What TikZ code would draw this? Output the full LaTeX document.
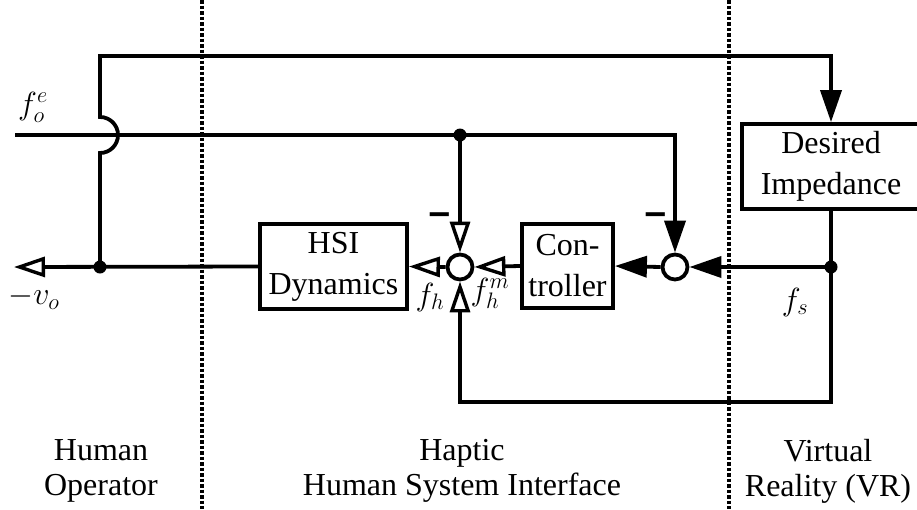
\RequirePackage{fix-cm}
\documentclass[tikz,border=0pt]{standalone}
\usepackage{graphicx}
\usepackage{fontspec}
\setmainfont{Liberation Serif}
\usetikzlibrary{arrows.meta}

\tikzset{
  wire/.style={line width=3.8pt},
  openarr/.style={wire,-{Triangle[open,length=31pt,width=20pt,fill=white,line width=3.4pt]}},
  fillarr/.style={wire,-{Triangle[length=32pt,width=21pt]}},
  blockbox/.style={draw,line width=3.8pt,align=center,inner sep=0pt,
    font=\fontsize{32}{41}\selectfont},
  sumjunction/.style={draw,circle,line width=3.8pt,minimum size=25pt,inner sep=0pt},
  junctiondot/.style={circle,fill,minimum size=13pt,inner sep=0pt},
  signal/.style={font=\fontsize{32}{35}\selectfont,inner sep=0pt},
  minussign/.style={font=\bfseries\fontsize{46}{46}\selectfont,inner sep=0pt},
  zonelabel/.style={align=center,font=\fontsize{32}{35}\selectfont,inner sep=0pt},
  divider/.style={line width=3.5pt,dash pattern=on 3.5pt off 2pt}
}

\begin{document}
\begin{tikzpicture}[x=1pt,y=-1pt]
  \useasboundingbox (0,0) rectangle (917,509);

  % zone dividers
  \coordinate (divAtop) at (202,0);
  \coordinate (divAbot) at (202,509);
  \coordinate (divBtop) at (729,0);
  \coordinate (divBbot) at (729,509);
  \draw[divider] (divAtop) -- (divAbot);
  \draw[divider] (divBtop) -- (divBbot);

  % blocks
  \node[blockbox,minimum width=147pt,minimum height=85pt] (hsi) at (333.5,266.5) {HSI\\Dynamics};
  \node[blockbox,minimum width=91pt,minimum height=84pt] (ctrl) at (567.5,266) {Con-\\troller};
  \node[blockbox,minimum width=178pt,minimum height=85pt] (desired) at (831,166.5) {Desired\\Impedance};

  % summing junctions
  \node[sumjunction] (s1) at (460,267) {};
  \node[sumjunction] (s2) at (675,267) {};

  % branch points
  \node[junctiondot] (dvo) at (100,267) {};
  \node[junctiondot] (dfo) at (460,135) {};
  \node[junctiondot] (dfs) at (831,267) {};

  % free ends and corners
  \coordinate (vo) at (14,267);
  \coordinate (foe) at (15,135);
  \coordinate (jumplow) at (100,153);
  \coordinate (topleft) at (100,56);
  \coordinate (loopcorner) at (831,402);

  % human side: velocity output and feedback to VR (hops over the force line)
  \draw[openarr] (hsi.west) -- (vo);
  \draw[fillarr] (dvo.center) -- (jumplow) arc[start angle=90,end angle=-90,radius=18]
        -- (topleft) -| (desired.north);

  % operator force
  \draw[wire] (foe) -- (dfo.center);
  \draw[fillarr] (dfo.center) -| (s2.north);
  \draw[openarr] (dfo.center) -- (s1.north);

  % HSI loop
  \draw[openarr] (ctrl.west) -- (s1.east);
  \draw[openarr] (s1.west) -- (hsi.east);
  \draw[fillarr] (s2.west) -- (ctrl.east);
  \draw[fillarr] (dfs.center) -- (s2.east);
  \draw[openarr] (desired.south) -- (loopcorner) -| (s1.south);

  % signal labels
  \node[signal] (lfoe) at (33,107) {$f_o^e$};
  \node[signal] (lvo) at (34,298) {$-v_o$};
  \node[signal] (lfh) at (430,297) {$f_h$};
  \node[signal] (lfhm) at (490,293) {$f_h^m$};
  \node[signal] (lfs) at (795,302) {$f_s$};
  \node[minussign] (m1) at (440,219) {\scalebox{1.6}[1]{-}};
  \node[minussign] (m2) at (656,219) {\scalebox{1.6}[1]{-}};

  % zone names
  \node[zonelabel] (zhuman) at (101,471) {Human\\Operator};
  \node[zonelabel] (zhaptic) at (462,471) {Haptic\\Human System Interface};
  \node[zonelabel] (zvr) at (828,471) {Virtual\\Reality (VR)};
\end{tikzpicture}
\end{document}
